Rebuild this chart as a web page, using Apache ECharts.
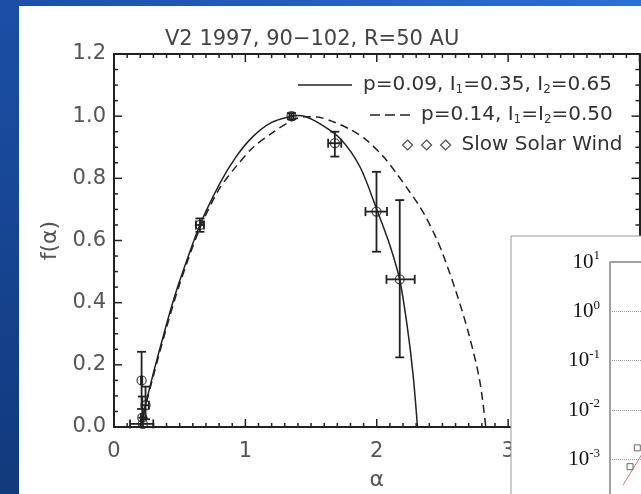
<!DOCTYPE html>
<html>
<head>
<meta charset="utf-8">
<script src="https://cdn.jsdelivr.net/npm/echarts@6/dist/echarts.min.js"></script>
<style>html,body{margin:0;padding:0;}#c{width:641px;height:494px;}</style>
</head>
<body>
<div id="c"></div>
<script>
// ---- data ----
const solidAlpha = [0.20,0.236,0.30,0.38,0.44,0.502,0.654,0.806,0.93,1.059,1.2,1.351,1.40,1.45,1.55,1.719,1.871,2.0,2.1,2.175,2.23,2.276,2.31];
const solidF     = [0.0,0.065,0.174,0.30,0.39,0.473,0.65,0.784,0.87,0.935,0.98,1.0,1.002,1.0,0.98,0.929,0.838,0.70,0.585,0.473,0.33,0.17,0.0];

const dashedAlpha = [0.20,0.236,0.30,0.40,0.50,0.654,0.80,0.933,1.06,1.21,1.35,1.45,1.55,1.668,1.80,1.922,2.05,2.15,2.25,2.314,2.378,2.45,2.50,2.60,2.70,2.783,2.83];
const dashedF     = [0.0,0.06,0.165,0.32,0.46,0.64,0.765,0.84,0.90,0.948,0.985,0.998,0.997,0.982,0.957,0.923,0.87,0.816,0.757,0.718,0.672,0.61,0.56,0.44,0.30,0.151,0.0];

const obsAlpha   = [1.351,1.681,1.998,2.175,0.654,0.210,0.215,0.240,0.220];
const obsF       = [1.000,0.913,0.693,0.475,0.650,0.150,0.030,0.070,0.010];
const obsAlphaLo = [1.335,1.630,1.914,2.074,0.624,0.205,0.205,0.215,0.122];
const obsAlphaHi = [1.367,1.730,2.078,2.289,0.685,0.215,0.225,0.265,0.299];
const obsFLo     = [0.990,0.870,0.564,0.224,0.628,0.058,0.000,0.025,0.000];
const obsFHi     = [1.010,0.950,0.821,0.730,0.671,0.242,0.098,0.130,0.030];

const insetLineX = [0.65,1.5,3.0];
const insetLineY = [3.0e-4,1.1e-3,1.1e-2];
const insetSqX = [1.0,1.365];
const insetSqY = [7.1e-4,1.71e-3];

// tick positions of the frame (all four sides, ticks pointing inward)
const xMajorTicks = [0,1,2,3,4];
const xMinorTicks = [0.1,0.2,0.3,0.4,0.5,0.6,0.7,0.8,0.9,1.1,1.2,1.3,1.4,1.5,1.6,1.7,1.8,1.9,
                     2.1,2.2,2.3,2.4,2.5,2.6,2.7,2.8,2.9,3.1,3.2,3.3,3.4,3.5,3.6,3.7,3.8,3.9];
const yMajorTicks = [0,0.2,0.4,0.6,0.8,1.0,1.2];
const yMinorTicks = [0.05,0.1,0.15,0.25,0.3,0.35,0.45,0.5,0.55,0.65,0.7,0.75,0.85,0.9,0.95,1.05,1.1,1.15];

const nameSolid = 'p=0.09, I1=0.35, I2=0.65';
const nameDashed = 'p=0.14, I1=I2=0.50';
const nameObs = 'Slow Solar Wind';
const legendRich = {};
legendRich[nameSolid] = 'p=0.09, I{s|1}=0.35, I{s|2}=0.65';
legendRich[nameDashed] = 'p=0.14, I{s|1}=I{s|2}=0.50';
legendRich[nameObs] = 'Slow Solar Wind';

const FONT = 'DejaVu Sans';
const INK = '#222';
const X_MIN = 0, X_MAX = 4, Y_MIN = 0, Y_MAX = 1.2;

const chart = echarts.init(document.getElementById('c'), null, {renderer:'canvas'});

const legendText = {
  fontFamily: FONT, fontSize: 20, color: '#333',
  rich: { s: { fontFamily: FONT, fontSize: 12, color: '#333', padding: [10,0,0,0] } }
};
function legendOf(name, left, top, w, h, extra) {
  return Object.assign({
    data: [name], left: left, top: top, padding: 0, itemWidth: w, itemHeight: h,
    selectedMode: false, formatter: n => legendRich[n],
    textStyle: Object.assign({}, legendText, {padding: [0,0,0,6]})
  }, extra || {});
}

const blueTop = {
  type: 'linear', x: 0, y: 0, x2: 1, y2: 0,
  colorStops: [{offset: 0, color: '#1b4fa6'}, {offset: 1, color: '#2c6fd6'}]
};
const blueLeft = {
  type: 'linear', x: 0, y: 0, x2: 0, y2: 1,
  colorStops: [{offset: 0, color: '#1b4fa6'}, {offset: 1, color: '#123a7c'}]
};

const mainAxisLine = {show: true, onZero: false, lineStyle: {color: INK, width: 2}};
const noTick = {show: false};

// rows: [value, kind, side]  kind 0 = x major, 1 = x minor, 2 = y major, 3 = y minor; side 0 = bottom/left, 1 = top/right
const tickRows = [];
[0, 1].forEach(side => {
  xMajorTicks.forEach(v => tickRows.push([v, 0, side]));
  xMinorTicks.forEach(v => tickRows.push([v, 1, side]));
  yMajorTicks.forEach(v => tickRows.push([v, 2, side]));
  yMinorTicks.forEach(v => tickRows.push([v, 3, side]));
});

const option = {
  animation: false,
  backgroundColor: '#ffffff',
  title: {
    text: 'V2 1997, 90\u2212102, R=50 AU', left: 165, top: 29, padding: 0,
    textStyle: {fontFamily: FONT, fontSize: 21, fontWeight: 'normal', color: '#444'}
  },
  graphic: [
    {type: 'rect', shape: {x: 0, y: 0, width: 641, height: 6}, style: {fill: blueTop}},
    {type: 'rect', shape: {x: 0, y: 0, width: 19, height: 494}, style: {fill: blueLeft}},
    {type: 'rect', zlevel: 1, z: 0, shape: {x: 511, y: 236, width: 150, height: 280},
     style: {fill: '#fff', stroke: '#999', lineWidth: 1}}
  ],
  legend: [
    legendOf(nameSolid, 298, 75, 54, 1.5, {
      icon: 'path://M0,0H54V1.5H0Z', itemStyle: {color: INK, borderWidth: 0}
    }),
    legendOf(nameDashed, 370, 105, 40, 1.5, {
      icon: 'path://M0,0H10V1.5H0Z M15,0H25V1.5H15Z M30,0H40V1.5H30Z', itemStyle: {color: INK, borderWidth: 0}
    }),
    legendOf(nameObs, 402, 135, 48, 10, {
      icon: 'path://M5,0L10,5L5,10L0,5Z M24,0L29,5L24,10L19,5Z M43,0L48,5L43,10L38,5Z',
      itemStyle: {color: 'rgba(0,0,0,0)', borderColor: INK, borderWidth: 1.2}
    })
  ],
  grid: [
    {left: 114, top: 54, right: 1.5, bottom: 67, outerBoundsMode: 'none', containLabel: false},
    {left: 610, top: 262, width: 200, height: 296, show: true, borderColor: '#444', borderWidth: 1,
     outerBoundsMode: 'none', containLabel: false,
     backgroundColor: 'rgba(0,0,0,0)', zlevel: 1, z: 10}
  ],
  xAxis: [
    {type: 'value', gridIndex: 0, position: 'bottom', min: X_MIN, max: X_MAX, interval: 1,
     axisLine: mainAxisLine, axisTick: noTick, splitLine: {show: false},
     axisLabel: {margin: 14, fontFamily: FONT, fontSize: 21, color: '#555'},
     name: '\u03b1', nameLocation: 'middle', nameGap: 42,
     nameTextStyle: {fontFamily: FONT, fontSize: 22, color: '#555'}},
    {type: 'value', gridIndex: 0, position: 'top', min: X_MIN, max: X_MAX, interval: 1,
     axisLine: mainAxisLine, axisTick: noTick, splitLine: {show: false},
     axisLabel: {show: false}},
    {type: 'value', gridIndex: 1, min: 0, max: 10, zlevel: 1, z: 10,
     axisLine: {show: false, onZero: false}, axisTick: {show: false}, axisLabel: {show: false}, splitLine: {show: false}}
  ],
  yAxis: [
    {type: 'value', gridIndex: 0, position: 'left', min: Y_MIN, max: Y_MAX, interval: 0.2,
     axisLine: mainAxisLine, axisTick: noTick, splitLine: {show: false},
     axisLabel: {margin: 8, fontFamily: FONT, fontSize: 21, color: '#555', formatter: v => v.toFixed(1)},
     name: 'f(\u03b1)', nameLocation: 'middle', nameGap: 51,
     nameTextStyle: {fontFamily: FONT, fontSize: 22, color: '#555'}},
    {type: 'value', gridIndex: 0, position: 'right', min: Y_MIN, max: Y_MAX, interval: 0.2,
     axisLine: mainAxisLine, axisTick: noTick, splitLine: {show: false},
     axisLabel: {show: false}},
    {type: 'log', logBase: 10, gridIndex: 1, min: 1e-5, max: 10, splitNumber: 6, zlevel: 1, z: 10,
     axisLine: {show: false, onZero: false},
     axisTick: {show: false},
     splitLine: {show: true, lineStyle: {type: 'dotted', color: '#9a9a9a', width: 1}},
     axisLabel: {
       margin: 10,
       formatter: v => '{b|10}{e|' + Math.round(Math.log10(v)) + '}',
       rich: {
         b: {fontFamily: 'Liberation Serif', fontSize: 21, color: '#111'},
         e: {fontFamily: 'Liberation Serif', fontSize: 13, color: '#111', padding: [0,0,12,0]}
       }
     }}
  ],
  series: [
    {name: 'frame ticks', type: 'custom', xAxisIndex: 0, yAxisIndex: 0, silent: true, z: 3, clip: false,
     data: tickRows,
     renderItem: function (params, api) {
       const v = api.value(0), kind = api.value(1), side = api.value(2);
       const st = {stroke: INK, lineWidth: 1.5};
       let p, dx = 0, dy = 0;
       if (kind < 2) {
         const len = kind === 0 ? 8 : 4;
         p = api.coord([v, side === 0 ? Y_MIN : Y_MAX]);
         dy = side === 0 ? -len : len;
       } else {
         const len = kind === 2 ? 8 : 4;
         p = api.coord([side === 0 ? X_MIN : X_MAX, v]);
         dx = side === 0 ? len : -len;
       }
       return {type: 'line', shape: {x1: p[0], y1: p[1], x2: p[0] + dx, y2: p[1] + dy}, style: st};
     }},
    {name: nameSolid, type: 'line', xAxisIndex: 0, yAxisIndex: 0, smooth: 0.3, symbol: 'none',
     lineStyle: {color: INK, width: 1.5}, itemStyle: {color: INK},
     data: solidAlpha.map((a, i) => [a, solidF[i]])},
    {name: nameDashed, type: 'line', xAxisIndex: 0, yAxisIndex: 0, smooth: 0.3, symbol: 'none',
     lineStyle: {color: INK, width: 1.5, type: [8,5]}, itemStyle: {color: INK},
     data: dashedAlpha.map((a, i) => [a, dashedF[i]])},
    {name: 'errors', type: 'custom', xAxisIndex: 0, yAxisIndex: 0, encode: {x: 0, y: 1},
     data: obsAlpha.map((a, i) => [a, obsF[i], obsAlphaLo[i], obsAlphaHi[i], obsFLo[i], obsFHi[i]]),
     renderItem: function (params, api) {
       const x = api.value(0), y = api.value(1);
       const lo = api.coord([x, api.value(4)]), hi = api.coord([x, api.value(5)]);
       const l = api.coord([api.value(2), y]), r = api.coord([api.value(3), y]);
       const c = 4.5;
       const st = {stroke: INK, lineWidth: 1.8};
       const seg = (x1, y1, x2, y2) => ({type: 'line', shape: {x1, y1, x2, y2}, style: st});
       return {type: 'group', children: [
         seg(lo[0], lo[1], hi[0], hi[1]),
         seg(lo[0] - c, lo[1], lo[0] + c, lo[1]),
         seg(hi[0] - c, hi[1], hi[0] + c, hi[1]),
         seg(l[0], l[1], r[0], r[1]),
         seg(l[0], l[1] - c, l[0], l[1] + c),
         seg(r[0], r[1] - c, r[0], r[1] + c)
       ]};
     }},
    {name: nameObs, type: 'scatter', xAxisIndex: 0, yAxisIndex: 0, symbol: 'circle', symbolSize: 9,
     itemStyle: {color: 'rgba(0,0,0,0)', borderColor: INK, borderWidth: 1.3},
     data: obsAlpha.map((a, i) => [a, obsF[i]])},
    {name: 'inset line', type: 'line', xAxisIndex: 2, yAxisIndex: 2, zlevel: 1, z: 12, symbol: 'none',
     lineStyle: {color: '#d9707e', width: 1},
     data: insetLineX.map((a, i) => [a, insetLineY[i]])},
    {name: 'inset points', type: 'scatter', xAxisIndex: 2, yAxisIndex: 2, zlevel: 1, z: 13, symbol: 'rect', symbolSize: 6,
     itemStyle: {color: '#fff', borderColor: '#444', borderWidth: 1},
     data: insetSqX.map((a, i) => [a, insetSqY[i]])}
  ]
};
chart.setOption(option);
</script>
</body>
</html>
